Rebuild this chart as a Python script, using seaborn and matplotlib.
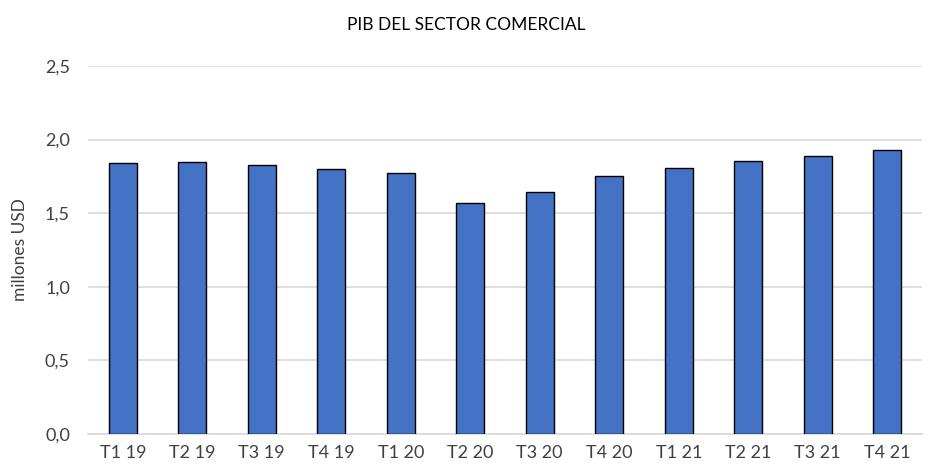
import pandas as pd
import seaborn as sb
import matplotlib.pyplot as plt
from matplotlib.ticker import FuncFormatter

quarters = ["T1 19", "T2 19", "T3 19", "T4 19", "T1 20", "T2 20",
            "T3 20", "T4 20", "T1 21", "T2 21", "T3 21", "T4 21"]
pib = [1.840, 1.847, 1.830, 1.802, 1.775, 1.571,
       1.641, 1.755, 1.809, 1.857, 1.891, 1.932]

df = pd.DataFrame({"Trimestre": quarters, "PIB": pib})

sb.set_style("white")
plt.rcParams["font.family"] = ["Lato", "DejaVu Sans"]

fig = plt.figure(figsize=(9.33, 4.74), dpi=100)
ax = fig.add_axes([88 / 933, 1 - 434 / 474, 834 / 933, 368 / 474])

sb.barplot(data=df, x="Trimestre", y="PIB", color="#4472C4", saturation=1,
           width=0.41, edgecolor="black", linewidth=1, ax=ax, zorder=3)

ax.set_ylim(0, 2.5)
ax.set_xlim(-0.5, 11.5)
ax.set_yticks([0, 0.5, 1.0, 1.5, 2.0, 2.5])
ax.yaxis.set_major_formatter(FuncFormatter(lambda v, p: f"{v:.1f}".replace(".", ",")))
ax.grid(axis="y", color="#d9d9d9", linewidth=1.2, zorder=0)
for s in ["top", "right", "left"]:
    ax.spines[s].set_visible(False)
ax.spines["bottom"].set_color("#d9d9d9")
ax.spines["bottom"].set_linewidth(1.2)
ax.tick_params(axis="both", length=0, labelsize=13, colors="#404040")
ax.tick_params(axis="y", pad=13)
ax.tick_params(axis="x", pad=8)
ax.set_xlabel("")
ax.set_ylabel("millones USD", fontsize=12.5, color="#404040", labelpad=12)
fig.suptitle("PIB DEL SECTOR COMERCIAL", fontsize=12.5, color="black", y=0.965)

plt.savefig("out.png", dpi=100)
